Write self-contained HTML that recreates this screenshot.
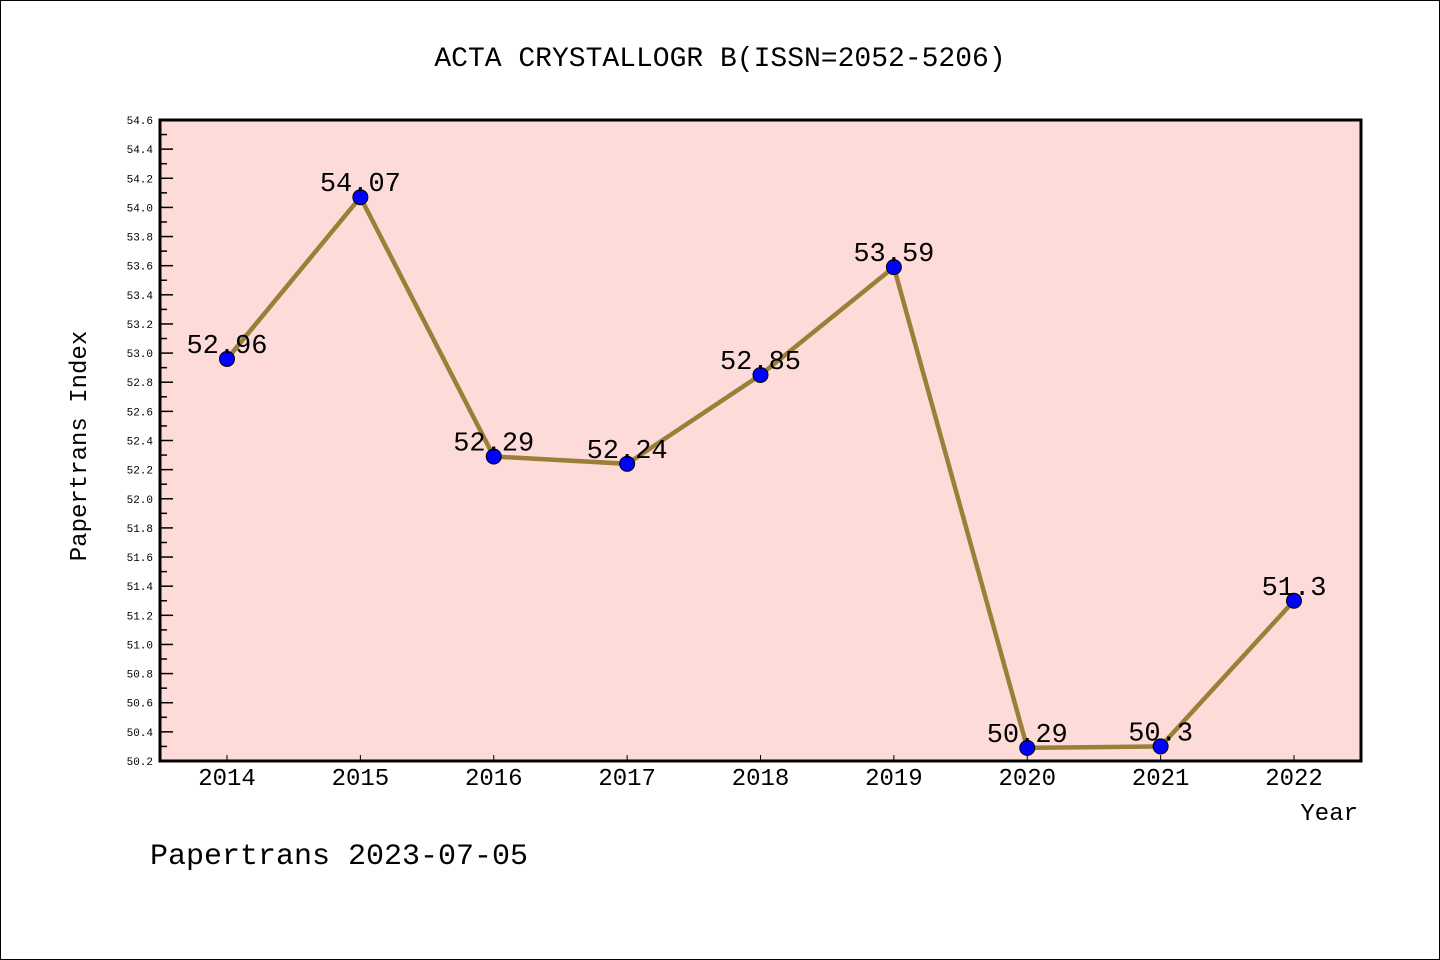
<!DOCTYPE html>
<html><head><meta charset="utf-8"><style>
html,body{margin:0;padding:0;background:#fff}
svg{display:block}
text{font-family:"Liberation Mono","DejaVu Sans Mono",monospace}
</style></head><body>
<svg id="chart" width="1440" height="960">
<rect x="0.5" y="0.5" width="1439" height="959" fill="#fff" stroke="#000"/>
<text x="720" y="66" text-anchor="middle" font-size="28" font-family="WenQuanYi Zen Hei, Liberation Mono, monospace">ACTA CRYSTALLOGR B(ISSN=2052-5206)</text>
<rect x="160" y="120" width="1201" height="641" fill="#fddbd8"/>
<g id="axes"></g>
<g id="series"></g>
<rect x="160" y="120" width="1201" height="641" fill="none" stroke="#000" stroke-width="3"/>
<text x="86" y="446" text-anchor="middle" font-size="24" transform="rotate(-90 86 446)">Papertrans Index</text>
<text x="1358" y="820" text-anchor="end" font-size="24">Year</text>
<text x="150" y="864" font-size="30">Papertrans 2023-07-05</text>
</svg>
<script>
const years = ["2014","2015","2016","2017","2018","2019","2020","2021","2022"];
const values = [52.96,54.07,52.29,52.24,52.85,53.59,50.29,50.3,51.3];
const labels = ["52.96","54.07","52.29","52.24","52.85","53.59","50.29","50.3","51.3"];
const yMin = 50.2, yMax = 54.6;
const NS="http://www.w3.org/2000/svg";
function xs(i){return 227+i*(1294-227)/8;}
function ys(v){return 761-(v-yMin)/(yMax-yMin)*641;}
function mk(t,a,p){const e=document.createElementNS(NS,t);for(const k in a)e.setAttribute(k,a[k]);p.appendChild(e);return e;}
const ax=document.getElementById('axes'), sr=document.getElementById('series');
for(let k=0;k<=44;k++){
  const v=yMin+k*0.1, y=ys(v), major=k%2===0;
  const t=mk('line',{x1:160,x2:major?173:167,y1:y,y2:y,stroke:'#000','stroke-width':1.5},ax);
  
  
  if(major){
    const l=mk('text',{x:153,y:y+4,'text-anchor':'end','font-size':11,'font-family':'DejaVu Sans, sans-serif'},ax);
    l.textContent=v.toFixed(1);
    
    
  }
}
years.forEach((yr,i)=>{
  const x=xs(i);
  const t=mk('line',{x1:x,x2:x,y1:761,y2:755,stroke:'#000','stroke-width':1},ax);
  
  
  const l=mk('text',{x:x,y:785,'text-anchor':'middle','font-size':24,'font-family':'DejaVu Sans Condensed, DejaVu Sans, sans-serif'},ax);
  l.textContent=yr;
  
  
});
const pts=values.map((v,i)=>xs(i)+','+ys(v)).join(' ');
const pl=mk('polyline',{points:pts,fill:'none',stroke:'#9b7e38','stroke-width':4.5},sr);


values.forEach((v,i)=>{
  const c=mk('circle',{cx:xs(i),cy:ys(v),r:7.5,fill:'#0000ff',stroke:'#000','stroke-width':1},sr);
  
  
  const l=mk('text',{x:xs(i),y:ys(v)-6,'text-anchor':'middle','font-size':27,'font-family':'DejaVu Sans Condensed, DejaVu Sans, sans-serif'},sr);
  l.textContent=labels[i];
  
  
});
</script>
</body></html>
